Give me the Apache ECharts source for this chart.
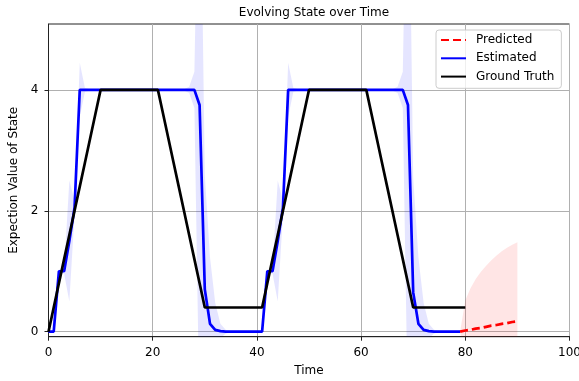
<!DOCTYPE html>
<html><head><meta charset="utf-8">
<script src="https://cdn.jsdelivr.net/npm/echarts@6/dist/echarts.min.js"></script>
<style>html,body{margin:0;padding:0;background:#fff}#c{width:579px;height:381px}</style>
</head><body><div id="c"></div>
<script>
// Ground truth, t = 0..80
const groundTruth = [
  0, 0.4, 0.8, 1.2, 1.6, 2.0, 2.4, 2.8, 3.2, 3.6, 4.0,
  4, 4, 4, 4, 4, 4, 4, 4, 4, 4, 4,
  3.6, 3.2, 2.8, 2.4, 2.0, 1.6, 1.2, 0.8, 0.4,
  0.4, 0.4, 0.4, 0.4, 0.4, 0.4, 0.4, 0.4, 0.4, 0.4, 0.4,
  0.8, 1.2, 1.6, 2.0, 2.4, 2.8, 3.2, 3.6, 4.0,
  4, 4, 4, 4, 4, 4, 4, 4, 4, 4, 4,
  3.6, 3.2, 2.8, 2.4, 2.0, 1.6, 1.2, 0.8, 0.4,
  0.4, 0.4, 0.4, 0.4, 0.4, 0.4, 0.4, 0.4, 0.4, 0.4
];
// Estimated, t = 0..79
const estimated = [
  0, 0, 1, 1, 1.5, 2.05, 4, 4, 4, 4,
  4, 4, 4, 4, 4, 4, 4, 4, 4, 4,
  4, 4, 4, 4, 4, 4, 4, 4, 4, 3.75,
  0.7, 0.13, 0.03, 0.01, 0, 0, 0, 0, 0, 0,
  0, 0, 1, 1, 1.5, 2.05, 4, 4, 4, 4,
  4, 4, 4, 4, 4, 4, 4, 4, 4, 4,
  4, 4, 4, 4, 4, 4, 4, 4, 4, 3.75,
  0.65, 0.13, 0.03, 0.01, 0, 0, 0, 0, 0, 0
];
// Estimated uncertainty half-width, t = 0..79
const estSpread = [
  0.01, 0.01, 0.03, 0.04, 1.0, 0.12, 0.45, 0.03,
  0.01, 0.01, 0.01, 0.01, 0.01, 0.01, 0.01, 0.01, 0.01, 0.01, 0.01, 0.01, 0.01, 0.01, 0.01, 0.01, 0.01, 0.01, 0.01,
  0.05, 0.3, 5.25, 1.9, 1.1, 0.45, 0.12, 0.03,
  0.01, 0.01, 0.01, 0.01, 0.01, 0.01,
  0.01, 0.03, 0.04, 1.0, 0.12, 0.45, 0.03,
  0.01, 0.01, 0.01, 0.01, 0.01, 0.01, 0.01, 0.01, 0.01, 0.01, 0.01, 0.01, 0.01, 0.01, 0.01, 0.01, 0.01, 0.01, 0.01,
  0.05, 0.3, 5.25, 1.9, 1.1, 0.45, 0.12, 0.03,
  0.01, 0.01, 0.01, 0.01, 0.01
];
// Predicted, t = 79..90
const predStart = 79;
const predicted = [0, 0.02, 0.03, 0.05, 0.06, 0.08, 0.1, 0.11, 0.13, 0.14, 0.16, 0.17];
const predSpread = [0, 0.5, 0.69, 0.82, 0.93, 1.01, 1.08, 1.15, 1.2, 1.25, 1.28, 1.31];

const xTicks = [0, 20, 40, 60, 80, 100];
const yTicks = [0, 2, 4];

const FONT = 'DejaVu Sans';
const pts = (start, arr) => arr.map((v, i) => [start + i, v]);
// band rows: [t, lower, upper]
const bandRows = (start, mean, sp) => mean.map((v, i) => [start + i, v - sp[i], v + sp[i]]);

const bandSeries = (name, rows, color) => ({
  name: name, type: 'custom', silent: true, z: 1,
  data: rows,
  encode: { x: 0, y: [1, 2] },
  renderItem: (params, api) => {
    if (params.dataIndex !== 0) return null;
    const n = rows.length;
    const up = [], lo = [];
    for (let i = 0; i < n; i++) {
      up.push(api.coord([rows[i][0], rows[i][2]]));
      lo.push(api.coord([rows[i][0], rows[i][1]]));
    }
    const cs = params.coordSys;
    return {
      type: 'group',
      clipPath: { type: 'rect', shape: { x: cs.x, y: cs.y, width: cs.width, height: cs.height } },
      children: [{ type: 'polygon', shape: { points: up.concat(lo.reverse()) }, style: { fill: color, stroke: null } }]
    };
  }
});

const chart = echarts.init(document.getElementById('c'), null, { renderer: 'canvas' });
chart.setOption({
  animation: false,
  backgroundColor: '#fff',
  textStyle: { fontFamily: FONT },
  title: {
    text: 'Evolving State over Time', left: 309, top: 2, textAlign: 'center',
    textStyle: { fontFamily: FONT, fontSize: 12, fontWeight: 'normal', color: '#000' }
  },
  grid: { left: 48.5, right: 9.5, top: 24, bottom: 44.3, show: true, borderColor: '#222', borderWidth: 1,
          backgroundColor: 'transparent', containLabel: false, outerBoundsMode: 'none' },
  legend: {
    data: ['Predicted', 'Estimated', 'Ground Truth'],
    orient: 'vertical', left: 436, top: 30,
    padding: [4, 7, 5.7, 4], itemWidth: 25, itemHeight: 12, itemGap: 6.3,
    backgroundColor: 'rgba(255,255,255,0.8)', borderColor: '#cccccc', borderWidth: 1, borderRadius: 3,
    itemStyle: { opacity: 0 },
    textStyle: { fontFamily: FONT, fontSize: 12, color: '#000', padding: [0, 0, 0, 5] }
  },
  xAxis: {
    type: 'value', min: 0, max: 100, interval: 20,
    name: 'Time', nameLocation: 'middle', nameGap: 28,
    nameTextStyle: { fontFamily: FONT, fontSize: 12, color: '#000' },
    axisLine: { show: true, onZero: false, lineStyle: { color: '#222', width: 1 } },
    axisTick: { show: true, length: 4, lineStyle: { color: '#222' }, customValues: xTicks },
    axisLabel: { margin: 10, fontFamily: FONT, fontSize: 12, color: '#000', customValues: xTicks },
    splitLine: { show: true, lineStyle: { color: '#b0b0b0', width: 1 } }
  },
  yAxis: {
    type: 'value', min: -0.083, max: 5.09,
    name: 'Expection Value of State', nameLocation: 'middle', nameGap: 21, nameRotate: 90,
    nameTextStyle: { fontFamily: FONT, fontSize: 12, color: '#000' },
    axisLine: { show: true, onZero: false, lineStyle: { color: '#222', width: 1 } },
    axisTick: { show: true, length: 4, lineStyle: { color: '#222' }, customValues: yTicks },
    axisLabel: { margin: 10, fontFamily: FONT, fontSize: 12, color: '#000', customValues: yTicks },
    splitLine: { show: true, lineStyle: { color: '#b0b0b0', width: 1 } }
  },
  series: [
    bandSeries('predBand', bandRows(predStart, predicted, predSpread), 'rgba(255,0,0,0.1)'),
    bandSeries('estBand', bandRows(0, estimated, estSpread), 'rgba(0,0,255,0.1)'),
    { name: 'Estimated', type: 'line', data: pts(0, estimated), symbol: 'none',
      lineStyle: { color: '#0000ff', width: 2.7 }, itemStyle: { color: '#0000ff' }, z: 3 },
    { name: 'Predicted', type: 'line', data: pts(predStart, predicted), symbol: 'none',
      lineStyle: { color: '#ff0000', width: 2.7, type: [8, 4] }, itemStyle: { color: '#ff0000' }, z: 3 },
    { name: 'Ground Truth', type: 'line', data: pts(0, groundTruth), symbol: 'none',
      lineStyle: { color: '#000000', width: 2.7 }, itemStyle: { color: '#000000' }, z: 4 }
  ]
});
</script>
</body></html>
